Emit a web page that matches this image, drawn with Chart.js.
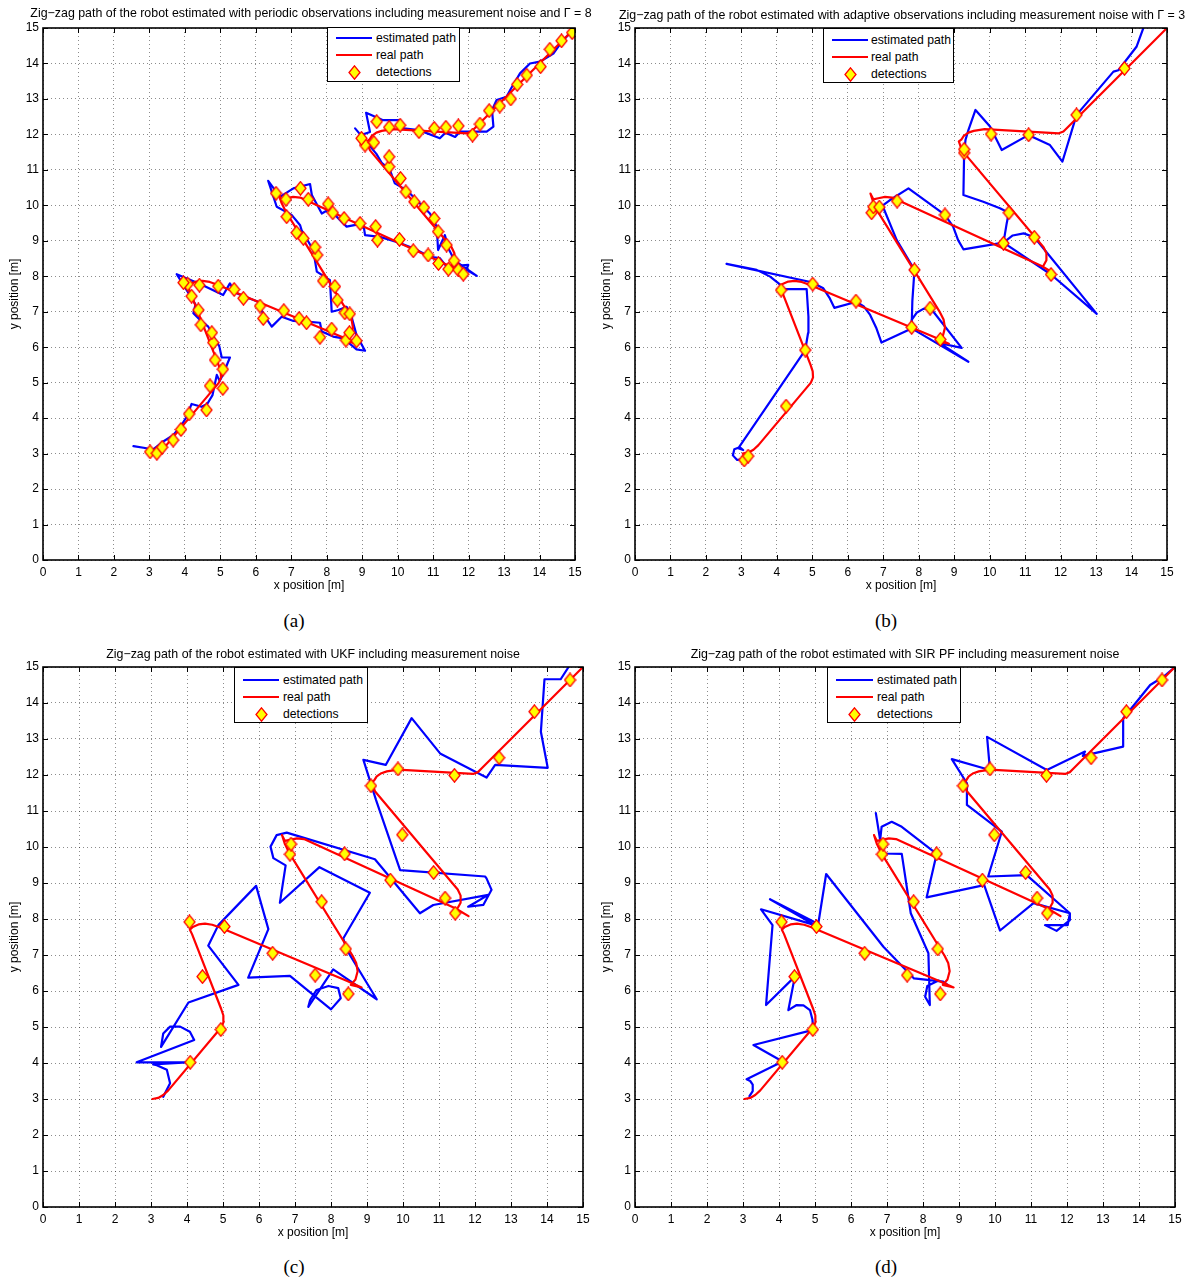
<!DOCTYPE html>
<html>
<head>
<meta charset="utf-8">
<script src="https://cdn.jsdelivr.net/npm/chart.js@4.4.0/dist/chart.umd.min.js"></script>
<style>
  html,body{margin:0;padding:0;background:#fff;}
  body{width:1194px;height:1279px;overflow:hidden;position:relative;font-family:"Liberation Sans",Arial,Helvetica,sans-serif;color:#000;}
  canvas.plot{position:absolute;}
  .title{position:absolute;font-size:12.4px;white-space:nowrap;transform:translate(-50%,-50%);}
  .cap{position:absolute;font-family:"Liberation Serif","Times New Roman",serif;font-size:19px;transform:translate(-50%,-50%);}
  .legend{position:absolute;box-sizing:border-box;border:1px solid #000;background:#fff;}
</style>
</head>
<body>
<canvas id="cA" class="plot"></canvas>
<canvas id="cB" class="plot"></canvas>
<canvas id="cC" class="plot"></canvas>
<canvas id="cD" class="plot"></canvas>
<script>
// ---------------- DATA ----------------
const axisMin = 0, axisMax = 15, axisStep = 1;
const legendLabels = ['estimated path', 'real path', 'detections'];
const xAxisTitle = 'x position [m]';
const yAxisTitle = 'y position [m]';
const titles = [
  'Zig\u2212zag path of the robot estimated with periodic observations including measurement noise and \u0393 = 8',
  'Zig\u2212zag path of the robot estimated with adaptive observations including measurement noise with \u0393 = 3',
  'Zig\u2212zag path of the robot estimated with UKF including measurement noise',
  'Zig\u2212zag path of the robot estimated with SIR PF including measurement noise'
];
const captions = ['(a)', '(b)', '(c)', '(d)'];

// real path of the robot (same in all four panels)
const realPath = [
  [3.04,3.00],[3.20,3.03],[3.34,3.11],[3.48,3.24],[4.96,5.00],[5.02,5.15],[5.01,5.32],[4.95,5.50],
  [4.14,7.58],[4.08,7.70],[4.16,7.78],[4.32,7.85],[4.50,7.87],[4.70,7.84],[4.90,7.77],
  [8.45,6.28],[8.85,6.10],[8.55,6.17],[8.68,6.32],[8.74,6.55],[8.70,6.78],[8.60,6.98],
  [6.86,9.80],[6.72,10.08],[6.64,10.33],[6.72,10.17],[6.86,10.20],[7.05,10.24],[7.25,10.22],
  [11.45,8.30],[11.82,8.08],[11.50,8.27],[11.60,8.45],[11.60,8.65],[11.52,8.82],
  [9.22,11.55],[9.13,11.80],[9.20,11.85],[9.27,11.96],[9.40,12.05],[9.55,12.10],[9.86,12.15],
  [11.95,12.03],[12.08,12.08],[12.18,12.18],[15.00,15.00]
];

// (a) periodic observations, Gamma = 8
const estA = [
  [2.55,3.21],[2.92,3.15],[3.05,3.08],[3.39,3.34],[3.67,3.52],[3.91,3.81],[4.05,4.04],[4.19,4.40],[4.47,4.32],
  [4.63,4.40],[4.78,4.65],[4.90,5.22],[4.98,5.05],[5.07,5.22],[5.27,5.71],[5.04,5.71],[4.97,6.03],[4.80,6.30],
  [4.66,6.58],[4.45,6.75],[4.24,6.96],[4.30,7.20],[4.14,7.47],[3.77,8.06],
  [4.43,7.78],[5.08,7.47],[5.27,7.80],[5.40,7.55],[5.69,7.42],[6.07,7.28],[6.20,6.95],[6.45,6.58],[6.73,6.86],
  [7.06,6.74],[7.43,6.72],[7.81,6.69],[7.86,6.44],[8.18,6.30],[8.47,6.25],[8.84,5.94],[9.08,5.90],
  [8.84,6.34],[8.70,6.86],[8.56,7.14],[8.33,7.05],[8.14,7.00],[8.09,7.89],[7.72,8.13],[7.62,8.74],[7.29,9.30],
  [7.25,9.44],[7.01,9.73],[6.59,9.96],[6.35,10.69],
  [6.68,10.24],[7.06,10.48],[7.53,10.60],[7.58,10.29],[7.86,9.77],[8.07,9.89],[8.56,9.40],[9.03,9.49],[9.08,9.16],
  [9.50,9.11],[9.97,8.97],[10.44,8.79],[10.91,8.55],[11.19,8.51],[11.38,8.27],[11.99,8.32],[11.94,8.18],[12.23,8.01],
  [11.60,8.45],[11.45,8.75],[11.33,9.16],[11.14,8.74],[11.10,9.40],[10.91,9.77],[10.58,10.10],[10.25,10.43],
  [9.92,10.62],[9.78,11.00],[9.55,11.20],[9.40,11.45],[8.96,11.98],[8.80,12.17],[8.96,11.98],[9.22,12.07],[9.11,12.61],
  [9.59,12.40],[10.07,12.40],[10.10,12.18],[10.60,12.12],[11.19,11.89],[11.35,12.05],[11.62,11.93],[11.76,12.08],
  [12.51,12.08],[12.70,12.22],[12.66,12.69],[12.79,12.97],[13.07,13.06],[13.20,13.30],[13.45,13.72],[13.73,14.00],
  [14.01,14.05],[14.39,14.28],[14.62,14.60],[14.95,14.96]
];
const detA = [
  [3.02,3.05],[3.21,3.01],[3.36,3.18],[3.67,3.38],[3.89,3.68],[4.12,4.12],[4.61,4.23],[4.71,4.91],[5.07,4.84],[5.07,5.38],
  [4.85,5.64],[4.80,6.13],[4.76,6.41],[4.45,6.63],[4.38,7.05],[4.19,7.44],[4.08,7.78],[3.96,7.82],
  [4.41,7.75],[4.94,7.72],[5.39,7.63],[5.65,7.38],[6.12,7.16],[6.21,6.81],[6.79,7.03],[7.22,6.81],[7.43,6.69],
  [7.81,6.28],[8.14,6.51],[8.54,6.20],[8.64,6.41],[8.84,6.18],
  [8.51,6.97],[8.65,6.94],[8.30,7.33],[8.23,7.71],[7.90,7.87],[7.73,8.60],[7.67,8.82],[7.34,9.07],[7.15,9.23],
  [6.87,9.68],[6.57,10.34],[6.85,10.17],
  [7.26,10.48],[7.48,10.17],[8.04,10.04],[8.17,9.79],[8.49,9.63],[8.94,9.49],[9.38,9.40],[9.43,9.02],[10.05,9.04],
  [10.44,8.72],[10.86,8.60],[11.15,8.36],[11.43,8.20],[11.71,8.18],[11.85,8.06],
  [11.59,8.44],[11.38,8.88],[11.14,9.26],[11.03,9.63],[10.74,9.94],[10.47,10.10],[10.23,10.38],[10.08,10.76],
  [9.76,11.09],[9.76,11.37],[9.08,11.70],[8.98,11.89],[9.33,11.77],
  [9.41,12.36],[9.76,12.20],[10.07,12.26],[10.60,12.08],[11.03,12.17],[11.36,12.20],[11.71,12.24],[12.11,11.98],
  [12.32,12.29],[12.58,12.67],[12.88,12.80],[13.19,13.00],[13.37,13.41],[13.64,13.67],[14.03,13.91],[14.29,14.40],
  [14.62,14.64],[14.92,14.87]
];

// (b) adaptive observations, Gamma = 3
const estB = [
  [3.05,2.85],[2.88,2.82],[2.76,2.95],[2.80,3.12],[2.95,3.18],[3.05,3.10],[2.91,3.15],[4.80,5.92],[4.88,6.40],
  [4.89,6.86],[4.84,7.64],[4.21,7.64],[4.05,7.80],[3.81,7.99],[3.43,8.18],[2.58,8.35],[4.98,7.83],[5.31,7.66],
  [5.48,7.40],[5.62,7.11],[6.25,7.28],[6.45,7.15],[6.63,6.91],[6.80,6.55],[6.95,6.13],[7.80,6.53],[9.40,5.59],
  [8.60,6.11],[9.21,5.98],[8.32,7.12],[8.13,7.08],[7.94,6.97],[7.80,6.77],[7.80,6.53],[7.82,7.30],[7.88,8.18],
  [7.38,9.02],[7.00,9.94],[6.85,9.90],[6.72,9.93],[6.95,9.97],[7.19,10.15],[7.71,10.48],[8.74,9.73],[8.97,9.40],
  [9.11,9.02],[9.26,8.76],[10.39,8.95],[11.73,8.05],[13.02,6.94],[11.26,9.10],[10.96,9.21],[10.65,9.15],[10.39,8.95],
  [10.48,9.49],[10.54,9.79],[10.29,9.92],[9.82,10.10],[9.26,10.29],[9.28,11.48],[9.32,11.85],[9.40,12.12],[9.60,12.69],
  [10.01,12.22],[10.34,11.56],[11.09,11.98],[11.70,11.70],[12.05,11.23],[12.45,12.55],[13.49,13.77],[13.63,13.81],
  [14.14,14.47],[14.33,14.99]
];
const detB = [
  [3.08,2.82],[3.19,2.93],[4.26,4.34],[4.80,5.92],[4.12,7.61],[5.01,7.78],[6.23,7.30],[7.80,6.56],[8.61,6.22],
  [8.32,7.10],[7.88,8.18],[6.67,9.79],[6.72,9.96],[6.89,9.95],[7.39,10.12],[8.74,9.73],[10.39,8.93],[10.54,9.79],
  [11.26,9.10],[11.73,8.05],[9.28,11.48],[9.28,11.58],[10.04,12.01],[11.10,11.99],[12.45,12.55],[13.80,13.86]
];

// (c) UKF
const estC = [
  [3.34,3.06],[3.53,3.44],[3.44,3.81],[3.16,3.94],[3.06,3.96],[3.99,4.02],[2.60,4.02],[4.20,4.64],[4.08,4.87],
  [3.81,5.01],[3.53,5.01],[3.34,4.82],[3.28,4.45],[4.04,5.68],[5.43,6.17],[4.59,7.26],[4.87,7.83],[5.92,8.92],
  [6.26,7.72],[5.70,6.37],[6.86,6.42],[8.00,5.49],[8.27,5.80],[8.20,6.08],[7.93,6.14],[7.60,6.03],[7.42,5.75],
  [7.37,5.56],[8.06,6.60],[9.27,5.77],[8.44,7.14],[8.34,7.46],[9.08,8.73],[7.68,9.44],[6.58,8.45],[6.74,9.49],
  [6.40,9.69],[6.32,10.01],[6.49,10.33],[6.77,10.40],[9.22,9.66],[10.47,8.16],[10.84,8.39],[12.37,8.67],
  [11.81,8.34],[12.23,8.39],[12.46,8.81],[12.32,9.13],[12.28,9.18],[9.92,9.36],[9.25,11.31],[8.90,12.42],
  [9.52,12.28],[10.24,13.58],[11.03,12.60],[12.32,11.93],[12.56,12.28],[14.02,12.20],[13.83,13.20],[13.93,14.66],
  [14.38,14.66],[14.60,15.00]
];
// (d) SIR particle filter
const estD = [
  [3.18,3.08],[3.27,3.22],[3.27,3.40],[3.20,3.50],[3.10,3.55],[4.10,4.04],[3.29,4.50],[4.95,4.92],[4.93,5.20],
  [4.86,5.47],[4.68,5.60],[4.49,5.61],[4.26,5.47],[4.44,6.40],[3.64,5.61],[3.82,7.83],[3.50,8.27],[5.00,7.83],
  [3.75,8.55],[5.09,7.86],[5.31,9.25],[6.90,7.23],[7.75,6.35],[8.56,6.26],[8.66,6.19],[8.43,6.29],[8.12,6.14],
  [8.06,5.84],[8.19,5.61],[8.15,7.05],[7.66,8.16],[7.41,9.81],[6.88,9.82],[6.81,10.19],[6.69,10.94],[6.81,10.19],
  [6.85,10.56],[7.13,10.70],[7.41,10.56],[8.38,9.81],[8.10,8.60],[9.70,8.94],[10.14,7.68],[11.07,8.44],[12.08,8.16],
  [12.08,7.97],[11.71,7.67],[11.39,7.83],[12.02,7.83],[12.08,8.16],[10.88,9.22],[9.81,9.18],[10.19,10.43],
  [9.22,11.17],[9.22,11.77],[8.80,12.44],[9.86,12.14],[9.78,13.06],[11.44,12.14],[12.50,12.65],[12.44,12.53],
  [13.56,12.79],[13.56,13.57],[14.31,14.50],[14.68,14.73],[15.00,15.00]
];
// detections used in (c) and (d)
const detCD = [
  [4.09,4.02],[4.94,4.93],[4.43,6.40],[4.07,7.92],[5.04,7.79],[6.38,7.05],[7.56,6.44],[8.48,5.92],[8.41,7.17],
  [7.74,8.48],[6.86,9.80],[6.89,10.08],[8.38,9.81],[9.65,9.08],[10.85,9.29],[11.17,8.58],[11.45,8.16],[9.98,10.34],
  [9.11,11.70],[9.86,12.17],[11.43,11.99],[12.67,12.48],[13.65,13.76],[14.64,14.64]
];

// ---------------- STYLE / HELPERS ----------------
const BLUE = '#0000ff', RED = '#ff0000', YELLOW = '#ffff00';
const FONT = '"Liberation Sans", Arial, Helvetica, sans-serif';

function makeDiamond() {
  const c = document.createElement('canvas');
  c.width = 13; c.height = 15;
  const g = c.getContext('2d');
  g.beginPath();
  g.moveTo(6.5, 0.8); g.lineTo(12.0, 7.5); g.lineTo(6.5, 14.2); g.lineTo(1.0, 7.5); g.closePath();
  g.fillStyle = YELLOW; g.fill();
  g.strokeStyle = RED; g.lineWidth = 1.3; g.stroke();
  return c;
}
const diamond = makeDiamond();
const toXY = arr => arr.map(p => ({x: p[0], y: p[1]}));

const matlabBox = {
  id: 'matlabBox',
  afterDatasetsDraw(chart) {
    const {ctx, chartArea: a, scales} = chart;
    ctx.save();
    ctx.strokeStyle = '#000';
    ctx.lineWidth = 1;
    ctx.beginPath();
    scales.x.ticks.forEach(t => {
      const p = Math.round(scales.x.getPixelForValue(t.value)) + 0.5;
      ctx.moveTo(p, a.bottom); ctx.lineTo(p, a.bottom - 5);
      ctx.moveTo(p, a.top); ctx.lineTo(p, a.top + 5);
    });
    scales.y.ticks.forEach(t => {
      const p = Math.round(scales.y.getPixelForValue(t.value)) + 0.5;
      ctx.moveTo(a.left, p); ctx.lineTo(a.left + 5, p);
      ctx.moveTo(a.right, p); ctx.lineTo(a.right - 5, p);
    });
    ctx.stroke();
    ctx.lineWidth = 1.6;
    ctx.strokeRect(Math.round(a.left), Math.round(a.top), Math.round(a.right - a.left), Math.round(a.bottom - a.top));
    ctx.restore();
  }
};

function makeChart(id, left, top, W, H, R, est, det) {
  const cv = document.getElementById(id);
  cv.width = W; cv.height = H;
  cv.style.left = left + 'px'; cv.style.top = top + 'px';
  cv.style.width = W + 'px'; cv.style.height = H + 'px';
  const tickFont = {family: FONT, size: 12};
  return new Chart(cv, {
    type: 'scatter',
    data: {
      datasets: [
        {label: legendLabels[2], data: toXY(det), pointStyle: diamond, pointRadius: 6, showLine: false},
        {label: legendLabels[1], data: toXY(realPath), showLine: true, borderColor: RED, borderWidth: 2.2,
         pointRadius: 0, tension: 0, borderJoinStyle: 'round', borderCapStyle: 'round'},
        {label: legendLabels[0], data: toXY(est), showLine: true, borderColor: BLUE, borderWidth: 2.2,
         pointRadius: 0, tension: 0, borderJoinStyle: 'round', borderCapStyle: 'round'}
      ]
    },
    options: {
      responsive: false, animation: false, devicePixelRatio: 1, events: [],
      layout: {padding: {left: 0, right: R, top: 28, bottom: 0}},
      plugins: {legend: {display: false}, tooltip: {enabled: false}, title: {display: false}},
      scales: {
        x: {
          type: 'linear', min: axisMin, max: axisMax,
          afterFit(s) { s.height = 40; },
          ticks: {stepSize: axisStep, autoSkip: false, maxRotation: 0, padding: 5, color: '#000', font: tickFont},
          grid: {color: 'rgba(0,0,0,0.45)', lineWidth: 1, drawTicks: false},
          border: {display: false, dash: [1, 3]},
          title: {display: true, text: xAxisTitle, color: '#000', font: tickFont, padding: {top: 0, bottom: 7}}
        },
        y: {
          type: 'linear', min: axisMin, max: axisMax,
          afterFit(s) { s.width = 43; },
          ticks: {stepSize: axisStep, autoSkip: false, padding: 4, color: '#000', font: tickFont},
          grid: {color: 'rgba(0,0,0,0.45)', lineWidth: 1, drawTicks: false},
          border: {display: false, dash: [1, 3]},
          title: {display: true, text: yAxisTitle, color: '#000', font: tickFont, padding: {top: 7, bottom: 0}}
        }
      }
    },
    plugins: [matlabBox]
  });
}

function addText(cls, text, cx, cy) {
  const d = document.createElement('div');
  d.className = cls; d.textContent = text;
  d.style.left = cx + 'px'; d.style.top = cy + 'px';
  document.body.appendChild(d);
}

function addLegend(left, top, w, h, lx0, lx1, tx, rows) {
  const box = document.createElement('div');
  box.className = 'legend';
  box.style.left = left + 'px'; box.style.top = top + 'px';
  box.style.width = w + 'px'; box.style.height = h + 'px';
  const cols = [BLUE, RED];
  legendLabels.forEach((lab, i) => {
    if (i < 2) {
      const ln = document.createElement('div');
      ln.style.cssText = `position:absolute;left:${lx0}px;top:${rows[i] - 1}px;width:${lx1 - lx0}px;height:2px;background:${cols[i]};`;
      box.appendChild(ln);
    } else {
      const c = makeDiamond();
      c.style.cssText = `position:absolute;left:${(lx0 + lx1) / 2 - 6.5}px;top:${rows[i] - 7.5}px;`;
      box.appendChild(c);
    }
    const t = document.createElement('div');
    t.textContent = lab;
    t.style.cssText = `position:absolute;left:${tx}px;top:${rows[i] - 7}px;line-height:14px;font-size:12.2px;white-space:nowrap;`;
    box.appendChild(t);
  });
  document.body.appendChild(box);
}

// ---------------- BUILD ----------------
makeChart('cA', 0, 0, 597, 600, 22, estA, detA);
makeChart('cB', 592, 0, 597, 600, 22, estB, detB);
makeChart('cC', 0, 639, 605, 608, 22, estC, detCD);
makeChart('cD', 592, 639, 602, 608, 19, estD, detCD);

addText('title', titles[0], 311, 13);
addText('title', titles[1], 902, 15);
addText('title', titles[2], 313, 654);
addText('title', titles[3], 905, 654);

addText('cap', captions[0], 294, 621);
addText('cap', captions[1], 886, 621);
addText('cap', captions[2], 294, 1267);
addText('cap', captions[3], 886, 1267);

addLegend(327, 27, 133, 55, 8, 44, 48, [10, 27, 44]);
addLegend(823, 28, 131, 55, 8, 44, 47, [11, 28, 45]);
addLegend(234, 667, 134, 56, 8, 44, 48, [12, 29, 46]);
addLegend(827, 667, 134, 56, 8, 45, 49, [12, 29, 46]);
</script>
</body>
</html>
